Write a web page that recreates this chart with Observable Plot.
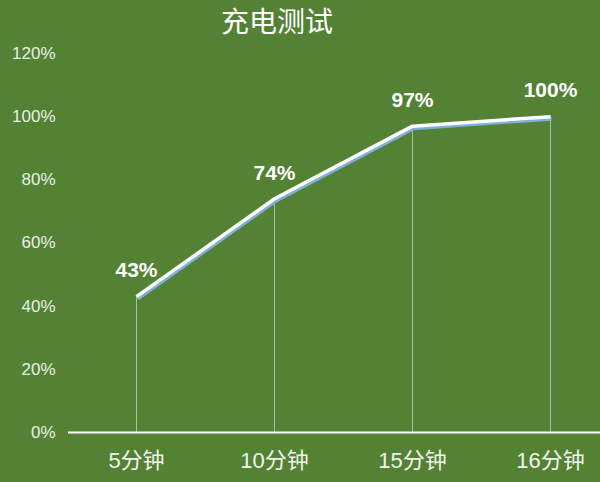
<!DOCTYPE html>
<html>
<head>
<meta charset="utf-8">
<script src="https://cdn.jsdelivr.net/npm/d3@7"></script>
<script src="https://cdn.jsdelivr.net/npm/@observablehq/plot@0.6"></script>
<style>
  html, body { margin: 0; padding: 0; background: #548235; }
  #wrap { position: relative; width: 600px; height: 482px; overflow: hidden; background: #548235; }
  #title { position: absolute; top: 1px; left: 277px; transform: translateX(-50%); height: 38px; line-height: 38px;
    font-family: "Noto Sans CJK SC", sans-serif; font-size: 28px; font-weight: 400; color: #ffffff; white-space: nowrap; }
  #chart { position: absolute; top: 40px; left: 0; }
</style>
</head>
<body>
<div id="wrap">
  <div id="title">充电测试</div>
  <div id="chart"></div>
</div>
<script>
const categories = ["5分钟", "10分钟", "15分钟", "16分钟"];
const values = [43, 74, 97, 100];
const labels = ["43%", "74%", "97%", "100%"];
const yTicks = [0, 20, 40, 60, 80, 100, 120];

const data = categories.map((c, i) => ({cat: c, v: values[i], label: labels[i]}));

const font = '"Liberation Sans", "Noto Sans CJK SC", sans-serif';

const chart = Plot.plot({
  width: 600,
  height: 442,
  marginTop: 13,
  marginBottom: 50,
  marginLeft: 68,
  marginRight: 0,
  style: {background: "transparent", fontFamily: font, color: "#e8efe3"},
  x: {type: "point", domain: categories, range: [136, 550], padding: 0, label: null},
  y: {domain: [0, 120], label: null},
  marks: [
    Plot.axisY({ticks: yTicks, tickFormat: d => d + "%", tickSize: 0, tickPadding: 13, fontSize: 17, fill: "#e8efe3"}),
    Plot.axisX({tickSize: 0, tickPadding: 20, fontSize: 22, fill: "#f0f4ec", fontFamily: font}),
    Plot.ruleX(data, {x: "cat", y1: 0, y2: "v", stroke: "#ffffff", strokeOpacity: 0.5, strokeWidth: 1}),
    Plot.ruleY([0], {stroke: "#ffffff", strokeWidth: 2}),
    Plot.line(data, {x: "cat", y: "v", stroke: "#7fb0dc", strokeWidth: 4, dy: 2, dx: 1, strokeLinecap: "butt"}),
    Plot.line(data, {x: "cat", y: "v", stroke: "#ffffff", strokeWidth: 3.5, strokeLinecap: "butt"}),
    Plot.text(data, {x: "cat", y: "v", text: "label", dy: -26, fill: "#ffffff", fontSize: 21, fontWeight: "bold", fontFamily: font})
  ]
});
document.getElementById("chart").appendChild(chart);
</script>
</body>
</html>
